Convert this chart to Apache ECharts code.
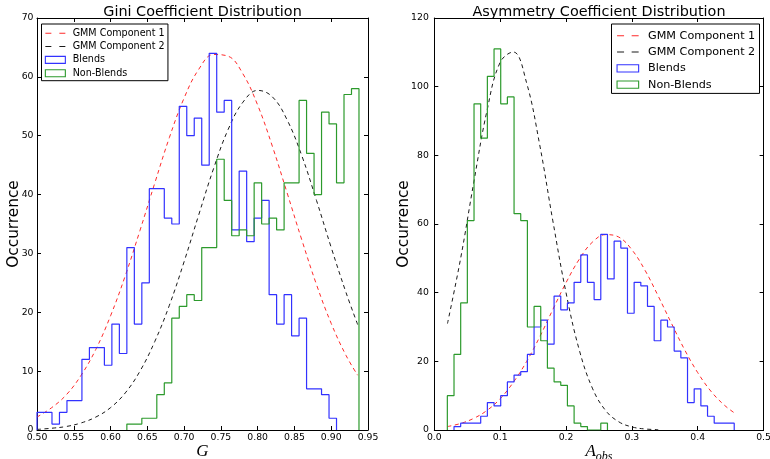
<!DOCTYPE html>
<html><head><meta charset="utf-8">
<script src="https://cdn.jsdelivr.net/npm/echarts@6/dist/echarts.min.js"></script>
<style>html,body{margin:0;padding:0;background:#fff}#c{width:770px;height:459px}</style>
</head><body><div id="c"></div>
<script>
// ---------------- Data ----------------
// Left panel: Gini coefficient G
const G_BIN_START = 0.50;
const G_BIN_WIDTH = 0.01018;
const G_BLENDS_OFFSET = 0;
const G_BLENDS = [3,3,1,3,5,5,12,14,14,11,18,13,31,18,25,41,41,36,35,55,50,53,45,64,54,56,34,44,32,36,39,23,18,23,16,19,7,7,6,2];
const G_NONBLENDS_OFFSET = 12;
const G_NONBLENDS = [1,1,2,2,6,8,19,21,23,22,31,31,46,39,33,34,33,42,35,36,34,42,42,56,47,40,54,52,42,57,58];
const G_CURVE_X = [0.50,0.52,0.54,0.56,0.58,0.60,0.62,0.64,0.66,0.68,0.70,0.72,0.74,0.76,0.78,0.80,0.82,0.84,0.86,0.88,0.90,0.92,0.936];
const G_GMM1 = [2.2,3.8,6.0,9.3,13.7,19.4,26.2,33.9,41.9,49.7,56.4,61.3,63.8,63.5,60.5,55.2,48.2,40.3,32.3,24.7,18.1,12.7,9.3];
const G_GMM2 = [0.1,0.3,0.6,1.2,2.2,3.8,6.3,10.0,15.0,21.2,28.6,36.6,44.4,51.1,55.7,57.7,56.6,52.7,46.6,39.0,31.0,23.4,17.9];
const G_X_TICKS = [0.50,0.55,0.60,0.65,0.70,0.75,0.80,0.85,0.90,0.95];

// Right panel: asymmetry coefficient A_obs
const A_BIN_START = 0.0198;
const A_BIN_WIDTH = 0.01013;
const A_BLENDS_OFFSET = 1;
const A_BLENDS = [1,2,2,2,4,8,7,10,14,16,17,22,30,32,25,39,35,37,43,51,43,38,57,44,55,53,34,43,42,36,26,32,30,23,21,8,12,7,4,2,2,2];
const A_NONBLENDS_OFFSET = 0;
const A_NONBLENDS = [10,22,37,61,95,85,103,111,95,97,63,61,30,36,26,18,14,13,7,2,1,0,0,2];
const A_CURVE_X = [0.02,0.04,0.06,0.08,0.10,0.12,0.14,0.16,0.18,0.20,0.22,0.24,0.26,0.28,0.30,0.32,0.34,0.36,0.38,0.40,0.42,0.44,0.457];
const A_GMM1 = [1.0,1.9,3.4,5.7,9.1,13.9,19.9,27.1,35.1,42.9,49.7,54.7,56.9,56.2,52.5,46.5,39.0,31.1,23.4,16.7,11.3,7.3,4.8];
const A_GMM2 = [31.0,50.0,72.2,93.0,107.1,110.1,101.2,83.1,60.9,40.0,23.4,12.2,5.7,2.4,0.9,0.3,0.1,null,null,null,null,null,null];
const A_X_TICKS = [0.0,0.1,0.2,0.3,0.4,0.5];

const NAMES = ['GMM Component 1','GMM Component 2','Blends','Non-Blends'];
const TITLES = ['Gini Coefficient Distribution','Asymmetry Coefficient Distribution'];

// ---------------- Helpers ----------------
function histPoints(start, width, offset, counts) {
  const pts = [[start + offset * width, 0]];
  counts.forEach((c, i) => pts.push([start + (offset + i) * width, c]));
  const end = start + (offset + counts.length) * width;
  pts.push([end, counts[counts.length - 1]]);
  pts.push([end, 0]);
  return pts;
}
function zip(xs, ys) { return xs.map((x, i) => [x, ys[i] == null ? '-' : ys[i]]); }

const FONT = 'DejaVu Sans';
const RED = '#ff2a2a', BLACK = '#1a1a1a', BLUE = '#3232ff', GREEN = '#2c9a2c';

function axisCommon(extra) {
  return Object.assign({
    type: 'value',
    nameMoveOverlap: false,
    axisLine: { show: true, onZero: false, lineStyle: { color: '#000', width: 1 } },
    axisTick: { show: true, inside: true, length: 4, lineStyle: { color: '#000', width: 1 } },
    splitLine: { show: false },
    axisLabel: { fontFamily: FONT, fontSize: 9.3, color: '#000' }
  }, extra);
}

const grids = [
  { left: 37, top: 18, width: 331, height: 412, outerBoundsMode: 'none' },
  { left: 434.3, top: 18, width: 329.3, height: 412, outerBoundsMode: 'none' }
];

const gTickMin = G_X_TICKS[0], gTickMax = G_X_TICKS[G_X_TICKS.length - 1];
const aTickMin = A_X_TICKS[0], aTickMax = A_X_TICKS[A_X_TICKS.length - 1];

const xAxes = [
  axisCommon({ gridIndex: 0, position: 'bottom', min: gTickMin, max: gTickMax, interval: 0.05,
    axisLabel: { fontFamily: FONT, fontSize: 9.3, color: '#000', margin: 3, formatter: v => v.toFixed(2) },
    name: 'G', nameLocation: 'middle', nameGap: 13,
    nameTextStyle: { fontFamily: 'Liberation Serif', fontStyle: 'italic', fontSize: 17, color: '#000' } }),
  axisCommon({ gridIndex: 0, position: 'top', min: gTickMin, max: gTickMax, interval: 0.05, axisLabel: { show: false } }),
  axisCommon({ gridIndex: 1, position: 'bottom', min: aTickMin, max: aTickMax, interval: 0.1,
    axisLabel: { fontFamily: FONT, fontSize: 9.3, color: '#000', margin: 3, formatter: v => v.toFixed(1) },
    name: '{a|A}{b|obs}', nameLocation: 'middle', nameGap: 13,
    nameTextStyle: { color: '#000', rich: {
      a: { fontFamily: 'Liberation Serif', fontStyle: 'italic', fontSize: 17, color: '#000', verticalAlign: 'top' },
      b: { fontFamily: 'Liberation Serif', fontStyle: 'italic', fontSize: 12, color: '#000', verticalAlign: 'bottom', padding: [8, 0, 0, 0] }
    } } }),
  axisCommon({ gridIndex: 1, position: 'top', min: aTickMin, max: aTickMax, interval: 0.1, axisLabel: { show: false } })
];

const yAxes = [
  axisCommon({ gridIndex: 0, position: 'left', min: 0, max: 70, interval: 10,
    axisLabel: { fontFamily: FONT, fontSize: 9.3, color: '#000', margin: 3.5 },
    name: 'Occurrence', nameLocation: 'middle', nameGap: 15.5, nameRotate: 90,
    nameTextStyle: { fontFamily: FONT, fontSize: 15.3, color: '#000' } }),
  axisCommon({ gridIndex: 0, position: 'right', min: 0, max: 70, interval: 10, axisLabel: { show: false } }),
  axisCommon({ gridIndex: 1, position: 'left', min: 0, max: 120, interval: 20,
    axisLabel: { fontFamily: FONT, fontSize: 9.3, color: '#000', margin: 5.5 },
    name: 'Occurrence', nameLocation: 'middle', nameGap: 22.5, nameRotate: 90,
    nameTextStyle: { fontFamily: FONT, fontSize: 15.3, color: '#000' } }),
  axisCommon({ gridIndex: 1, position: 'right', min: 0, max: 120, interval: 20, axisLabel: { show: false } })
];

function curve(name, data, color, xi, yi) {
  return { type: 'line', name, data, xAxisIndex: xi, yAxisIndex: yi, symbol: 'none', smooth: 0.4,
    lineStyle: { color, width: 1, type: [4, 3.5] }, itemStyle: { color }, clip: true, silent: true };
}
function hist(name, data, color, xi, yi) {
  return { type: 'line', name, data, xAxisIndex: xi, yAxisIndex: yi, symbol: 'none', step: 'end',
    lineStyle: { color, width: 1.2 }, itemStyle: { color }, clip: true, silent: true };
}

const series = [
  curve(NAMES[0], zip(G_CURVE_X, G_GMM1), RED, 0, 0),
  curve(NAMES[1], zip(G_CURVE_X, G_GMM2), BLACK, 0, 0),
  hist(NAMES[2], histPoints(G_BIN_START, G_BIN_WIDTH, G_BLENDS_OFFSET, G_BLENDS), BLUE, 0, 0),
  hist(NAMES[3], histPoints(G_BIN_START, G_BIN_WIDTH, G_NONBLENDS_OFFSET, G_NONBLENDS), GREEN, 0, 0),
  curve(NAMES[0], zip(A_CURVE_X, A_GMM1), RED, 2, 2),
  curve(NAMES[1], zip(A_CURVE_X, A_GMM2), BLACK, 2, 2),
  hist(NAMES[2], histPoints(A_BIN_START, A_BIN_WIDTH, A_BLENDS_OFFSET, A_BLENDS), BLUE, 2, 2),
  hist(NAMES[3], histPoints(A_BIN_START, A_BIN_WIDTH, A_NONBLENDS_OFFSET, A_NONBLENDS), GREEN, 2, 2)
];

function legendData(dashPath, rectBorder) {
  return [
    { name: NAMES[0], icon: dashPath, itemStyle: { color: RED, borderWidth: 0 } },
    { name: NAMES[1], icon: dashPath, itemStyle: { color: BLACK, borderWidth: 0 } },
    { name: NAMES[2], icon: 'rect', itemStyle: { color: 'rgba(0,0,0,0)', borderColor: BLUE, borderWidth: rectBorder } },
    { name: NAMES[3], icon: 'rect', itemStyle: { color: 'rgba(0,0,0,0)', borderColor: GREEN, borderWidth: rectBorder } }
  ];
}

const legends = [
  { orient: 'vertical', left: 41.5, top: 24, itemWidth: 20, itemHeight: 7, itemGap: 2.3,
    padding: [3.8, 3.4, 2.0, 3.3], borderColor: '#000', borderWidth: 1, backgroundColor: '#fff',
    selectedMode: false, symbolKeepAspect: true, z: 10,
    textStyle: { fontFamily: FONT, fontSize: 9.6, color: '#000', lineHeight: 11, padding: [0, 0, 0, 2.3] },
    data: legendData('path://M0,0h6v1h-6zM14,0h6v1h-6z', 1.1) },
  { orient: 'vertical', left: 611.5, top: 24, itemWidth: 21.6, itemHeight: 7.3, itemGap: 3.8,
    padding: [5.5, 4.3, 2.5, 5], borderColor: '#000', borderWidth: 1, backgroundColor: '#fff',
    selectedMode: false, symbolKeepAspect: true, z: 10,
    textStyle: { fontFamily: FONT, fontSize: 11.2, color: '#000', lineHeight: 12.5, padding: [0, 0, 0, 4.4] },
    data: legendData('path://M0,0h7v1h-7zM14.6,0h7v1h-7z', 1.1) }
];

const titles = [
  { text: TITLES[0], left: 202.5, top: 5, textAlign: 'center', padding: 0,
    textStyle: { fontFamily: FONT, fontSize: 14.4, fontWeight: 'normal', color: '#000' } },
  { text: TITLES[1], left: 599, top: 5, textAlign: 'center', padding: 0,
    textStyle: { fontFamily: FONT, fontSize: 14.4, fontWeight: 'normal', color: '#000' } }
];

const chart = echarts.init(document.getElementById('c'), null, { renderer: 'canvas', devicePixelRatio: 1 });
chart.setOption({
  backgroundColor: '#fff',
  animation: false,
  title: titles,
  legend: legends,
  grid: grids,
  xAxis: xAxes,
  yAxis: yAxes,
  series
});
</script></body></html>
